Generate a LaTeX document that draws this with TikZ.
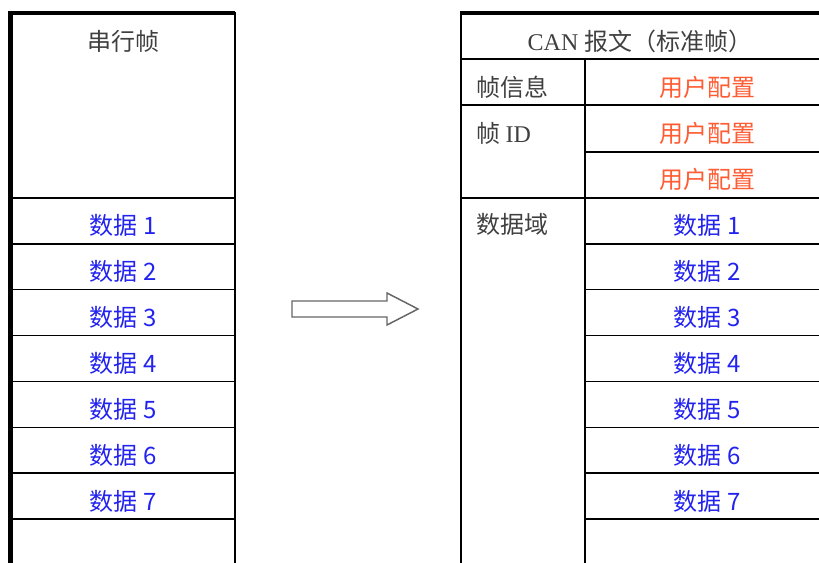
\documentclass[tikz,border=0pt]{standalone}
\usepackage{fontspec}
\usepackage{xcolor}
\usepackage{tikz}
\usetikzlibrary{positioning}
\setmainfont{Liberation Serif}
\newfontfamily\cjk{Noto Sans CJK SC}
\definecolor{mygray}{RGB}{64,64,64}
\definecolor{myblue}{RGB}{35,35,240}
\definecolor{myorange}{RGB}{255,92,52}
\tikzset{
  mythin/.style={
    draw=black,
    line width=1.1pt,
  },
  mythick/.style={
    draw=black,
    line width=2.4pt,
  },
  mytext/.style={
    anchor=base,
    inner sep=0pt,
    text=mygray,
    font=\fontsize{18}{20}\selectfont
  },
  mydata/.style={
    mytext,
    text=myblue,
  },
  myconf/.style={
    mytext,
    text=myorange,
  },
  mybigarrow/.style={
    draw=black!60,
    line width=1.1pt,
    line join=miter,
  },
}

\begin{document}
\begin{tikzpicture}[x=0.75pt,y=-0.75pt]
    \useasboundingbox (0,0) rectangle (819,563);

    % serial frame
    \draw [mythick, line width=3.4pt] (10.5,563) -- (10.5,11.5);
    \draw [mythick] (9,13) -- (235,13);
    \draw [mythin] (235,12) -- (235,563);
    \node [mytext] (serial) at (123,51) {\cjk 串行帧};
    \foreach \i in {0,...,7}
      \draw [mythin] (12,198+45.86*\i) -- (235,198+45.86*\i);
    \foreach \i in {1,...,7}
      \node [mydata] (sdata\i) at (123,198+45.86*\i-8.86) {\cjk 数据 \i};

    % block arrow
    \draw [mybigarrow] (292,301) -- (387,301) -- (387,293) -- (418,309)
      -- (387,325) -- (387,317) -- (292,317) -- cycle;

    % CAN frame
    \draw [mythick] (460,13) -- (819,13);
    \draw [mythin] (461,12) -- (461,563);
    \draw [mythin] (585,59) -- (585,563);
    \draw [mythin] (461,59) -- (819,59);
    \draw [mythin] (461,105) -- (819,105);
    \draw [mythin] (585,152) -- (819,152);
    \node [mytext] (can) at (640,51) {CAN \cjk 报文（标准帧）};
    \node [mytext, anchor=base west] (info) at (476,97) {\cjk 帧信息};
    \node [mytext, anchor=base west] (fid) at (476,143) {\cjk 帧\/ \rmfamily ID};
    \node [myconf] (conf1) at (707,97) {\cjk 用户配置};
    \node [myconf] (conf2) at (707,143) {\cjk 用户配置};
    \node [myconf] (conf3) at (707,189) {\cjk 用户配置};
    \node [mytext, anchor=base west] (field) at (476,234) {\cjk 数据域};
    \foreach \i in {0,...,7}
      \draw [mythin] (585,198+45.86*\i) -- (819,198+45.86*\i);
    \draw [mythin] (461,198) -- (585,198);
    \foreach \i in {1,...,7}
      \node [mydata] (cdata\i) at (707,198+45.86*\i-8.86) {\cjk 数据 \i};

  \end{tikzpicture}
\end{document}
